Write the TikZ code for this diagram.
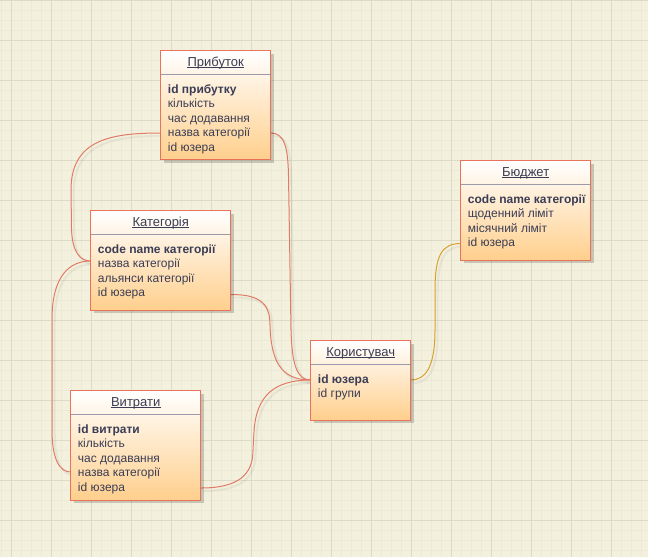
\documentclass[tikz,border=0pt]{standalone}
\usepackage{fontspec}
\setmainfont{Liberation Sans}
\usetikzlibrary{shadows,calc}
\definecolor{bgc}{HTML}{F3F1DE}
\definecolor{minorc}{HTML}{ECEAD6}
\definecolor{majorc}{HTML}{DDDBC7}
\definecolor{strokec}{HTML}{E8735A}
\definecolor{fillc}{HTML}{FFCF8C}
\definecolor{sepc}{HTML}{9A9AAA}
\definecolor{textc}{HTML}{3A3D55}
\definecolor{linec}{HTML}{E27B66}
\definecolor{goldc}{HTML}{D9A030}
\newcommand\erbox[6]{%
  \node[erbox, anchor=north west, minimum width=#4*0.75pt, minimum height=#5*0.75pt] (#1) at (#2,#3) {};
  \draw[sepc, line width=0.75pt] ($(#1.north west)+(0.5,23.5)$) -- ($(#1.north east)+(-0.5,23.5)$);
  \node[titletext, anchor=base] (#1-t) at ($(#1.north)+(0,15.5)$) {#6};
  \draw[textc, line width=0.6pt] ($(#1-t.base west)+(0,1.6)$) -- ($(#1-t.base east)+(0,1.6)$);
}
\newcommand\errows[2]{%
  \foreach [count=\i] \t in {#2} {
    \node[rowtext, anchor=base west] (#1-r\i) at ($(#1.north west)+(7,{42.8+(\i-1)*14.4})$) {\t};
  }
}
\newcommand\connector[2]{%
  \draw[connshadow, transform canvas={shift={(2pt,-2.25pt)}}] #2;
  \draw[#1] #2;
}
\begin{document}
\begin{tikzpicture}[x=0.75pt,y=-0.75pt,
  erbox/.style={draw=strokec, line width=0.75pt, top color=white, bottom color=fillc,
    drop shadow={shadow xshift=2.25pt, shadow yshift=-2.25pt, fill=black, opacity=0.18},
    inner sep=0pt, outer sep=0pt},
  titletext/.style={inner sep=0pt, text=textc, font=\fontsize{9.75pt}{12pt}\selectfont},
  rowtext/.style={inner sep=0pt, text=textc, font=\fontsize{9pt}{11pt}\selectfont},
  conn/.style={draw=linec, line width=0.75pt},
  conngold/.style={draw=goldc, line width=0.75pt},
  connshadow/.style={draw=black, opacity=0.05, line width=1.6pt},
  minorgrid/.style={draw=minorc, line width=0.75pt},
  majorgrid/.style={draw=majorc, line width=0.75pt}]
\useasboundingbox (0,0) rectangle (648,557);
\fill[bgc] (0,0) rectangle (648,557);
% grid
\foreach \i in {0,...,64} {\draw[minorgrid] (\i*10+1.7,0) -- (\i*10+1.7,557);}
\foreach \i in {0,...,55} {\draw[minorgrid] (0,\i*10) -- (648,\i*10);}
\foreach \i in {0,...,15} {\draw[majorgrid] (\i*40+11.7,0) -- (\i*40+11.7,557);}
\foreach \i in {0,...,13} {\draw[majorgrid] (0,\i*40) -- (648,\i*40);}
% ports
\coordinate (prL) at (160.7,133);
\coordinate (prR) at (270.7,133);
\coordinate (katL) at (90.7,261);
\coordinate (katR) at (230.7,294.5);
\coordinate (vytL) at (70.7,472);
\coordinate (vytR) at (200.7,488);
\coordinate (korL) at (310.7,380);
\coordinate (korR) at (410.7,380);
\coordinate (budL) at (460.7,243.5);
% connectors
\connector{conn}{(prR) .. controls (284,133) and (288,146) .. (288.5,176) -- (291,330) .. controls (292,365) and (297,380) .. (korL)}
\connector{conn}{(katR) .. controls (258,294.5) and (270,302) .. (270,325) .. controls (271,360) and (280,380) .. (korL)}
\connector{conn}{(prL) .. controls (110,133) and (71,140) .. (71,190) -- (71.5,228) .. controls (72,252) and (80,261) .. (katL)}
\connector{conn}{(katL) .. controls (70,261) and (52,275) .. (52,320) -- (52,430) .. controls (52,460) and (60,472) .. (vytL)}
\connector{conn}{(vytR) .. controls (238,488) and (253,475) .. (253,450) -- (254,432) .. controls (256,395) and (275,380) .. (korL)}
\connector{conngold}{(budL) .. controls (442,243.5) and (435,255) .. (435,290) -- (435,330) .. controls (435,368) and (425,380) .. (korR)}
% boxes
\erbox{pr}{160.7}{50.7}{110}{109}{Прибуток}
\errows{pr}{\textbf{id прибутку},кількість,час додавання,назва категорії,id юзера}
\erbox{kat}{90.7}{210.7}{140}{99.5}{Категорія}
\errows{kat}{\textbf{code name категорії},назва категорії,альянси категорії,id юзера}
\erbox{bud}{460.7}{160.7}{130}{99.5}{Бюджет}
\errows{bud}{\textbf{code name категорії},щоденний ліміт,місячний ліміт,id юзера}
\erbox{kor}{310.7}{340.7}{100}{79.5}{Користувач}
\errows{kor}{\textbf{id юзера},id групи}
\erbox{vyt}{70.7}{390.7}{130}{109.5}{Витрати}
\errows{vyt}{\textbf{id витрати},кількість,час додавання,назва категорії,id юзера}
\end{tikzpicture}
\end{document}
